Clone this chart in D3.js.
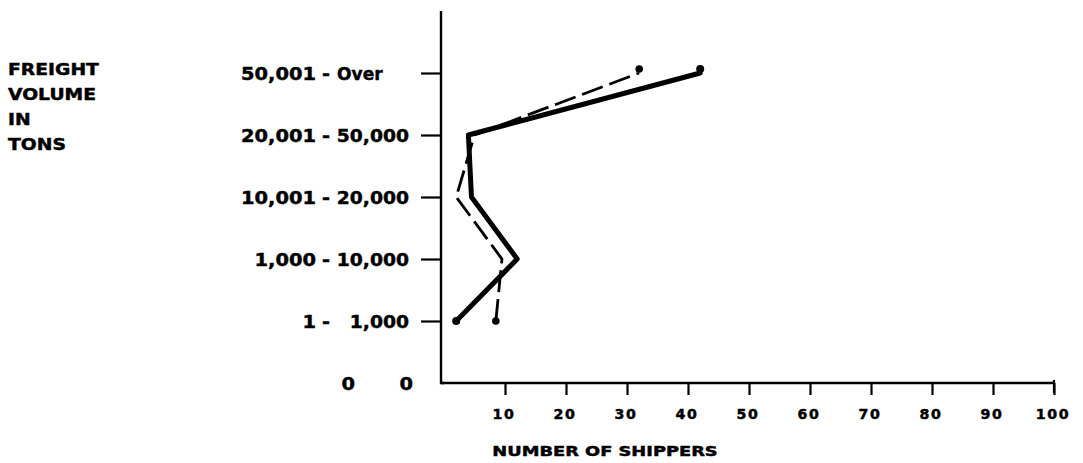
<!DOCTYPE html>
<html>
<head>
<meta charset="utf-8">
<script src="https://cdn.jsdelivr.net/npm/d3@7"></script>
<style>
  html, body { margin: 0; padding: 0; background: #fff; }
  svg { display: block; }
  text { font-family: "DejaVu Sans", sans-serif; font-weight: bold; fill: #000; stroke: #000; stroke-width: 0.45px; }
</style>
</head>
<body>
<svg id="chart" width="1083" height="463"></svg>
<script>
// ---- data ----
const categories = ["0  0", "1 - 1,000", "1,000 - 10,000", "10,001 - 20,000", "20,001 - 50,000", "50,001 - Over"];
const seriesSolid = [null, 2, 12, 4.5, 4, 42];
const seriesDashed = [null, 8.5, 9.5, 2, 5, 32];
const xTicks = [10, 20, 30, 40, 50, 60, 70, 80, 90, 100];
const titleLines = ["FREIGHT", "VOLUME", "IN", "TONS"];
const xTitle = "NUMBER OF SHIPPERS";

// ---- layout ----
const svg = d3.select("#chart");
const x = d3.scaleLinear().domain([0, 100]).range([444, 1054]);
const y = d3.scaleLinear().domain([0, 6]).range([383, 11]);

// y axis
const yAxis = d3.axisLeft(y)
  .tickValues([1, 2, 3, 4, 5])
  .tickSize(20)
  .tickFormat("");
const gy = svg.append("g").attr("transform", "translate(441,0)").call(yAxis);
gy.select(".domain").attr("d", `M0,${y(6)}V${y(0)}H3`).attr("stroke", "#000").attr("stroke-width", 2.4);
gy.selectAll(".tick line").attr("stroke", "#000").attr("stroke-width", 2.2);

// x axis
const xAxis = d3.axisBottom(x)
  .tickValues(xTicks)
  .tickSize(12)
  .tickFormat("");
const gx = svg.append("g").attr("transform", "translate(0,383)").call(xAxis);
gx.select(".domain").attr("d", `M441,0H${x(100)}`).attr("stroke", "#000").attr("stroke-width", 2.4);
gx.selectAll(".tick line").attr("stroke", "#000").attr("stroke-width", 2.2);
gx.append("line").attr("x1", x(100)).attr("x2", x(100)).attr("y1", -3).attr("y2", 10)
  .attr("stroke", "#000").attr("stroke-width", 2.2);

// x tick labels
svg.append("g").selectAll("text").data(xTicks).join("text")
  .attr("transform", d => `translate(${x(d) - 1},419) scale(1.05,1)`)
  .attr("text-anchor", "middle")
  .attr("font-size", 13.5)
  .attr("letter-spacing", 1.5)
  .text(d => d);

// y category labels (aligned on the hyphen)
const ylab = svg.append("g");
categories.forEach((c, i) => {
  const yy = y(i) + 6.5;
  const parts = c.split(" - ");
  if (parts.length === 2) {
    ylab.append("text").attr("transform", `translate(316,${yy}) scale(1.08,1)`)
      .attr("text-anchor", "end").attr("font-size", 18).text(parts[0]);
    ylab.append("text").attr("transform", `translate(326,${yy}) scale(1.08,1)`)
      .attr("text-anchor", "middle").attr("font-size", 18).text("-");
    const numeric = /\d/.test(parts[1]);
    ylab.append("text").attr("transform", numeric ? `translate(409,${yy}) scale(1.04,1)` : `translate(337,${yy}) scale(0.95,1)`)
      .attr("text-anchor", numeric ? "end" : "start").attr("font-size", 18).text(parts[1]);
  } else {
    const p = c.split(/\s+/);
    ylab.append("text").attr("transform", `translate(355,${yy}) scale(1.08,1)`)
      .attr("text-anchor", "end").attr("font-size", 18).text(p[0]);
    ylab.append("text").attr("transform", `translate(413,${yy}) scale(1.08,1)`)
      .attr("text-anchor", "end").attr("font-size", 18).text(p[1]);
  }
});

// left title
svg.append("g").selectAll("text").data(titleLines).join("text")
  .attr("transform", (d, i) => `translate(8,${75 + i * 25}) scale(1.25,1)`)
  .attr("font-size", 15)
  .text(d => d);

// x title
svg.append("text")
  .attr("transform", "translate(605,456) scale(1.32,1)")
  .attr("text-anchor", "middle")
  .attr("font-size", 13.5)
  .text(xTitle);

// lines
const pts = arr => arr.map((v, i) => [v, i]).filter(d => d[0] !== null);
const line = d3.line().x(d => x(d[0])).y(d => y(d[1]));

const dashedPts = pts(seriesDashed);
svg.append("path").datum(dashedPts)
  .attr("d", line).attr("fill", "none").attr("stroke", "#000")
  .attr("stroke-width", 2.8).attr("stroke-dasharray", "22,7")
  .attr("stroke-linejoin", "round");
svg.append("g").selectAll("circle").data([dashedPts[0], dashedPts[dashedPts.length - 1]]).join("circle")
  .attr("cx", d => x(d[0])).attr("cy", d => y(d[1]) - (d[1] === 5 ? 4 : 0)).attr("r", 3.8).attr("fill", "#000");

const solidPts = pts(seriesSolid);
svg.append("path").datum(solidPts)
  .attr("d", line).attr("fill", "none").attr("stroke", "#000")
  .attr("stroke-width", 5).attr("stroke-linejoin", "round").attr("stroke-linecap", "round");
svg.append("g").selectAll("circle").data([solidPts[0], solidPts[solidPts.length - 1]]).join("circle")
  .attr("cx", d => x(d[0])).attr("cy", d => y(d[1]) - (d[1] === 5 ? 4 : 0)).attr("r", 4).attr("fill", "#000");
</script>
</body>
</html>
